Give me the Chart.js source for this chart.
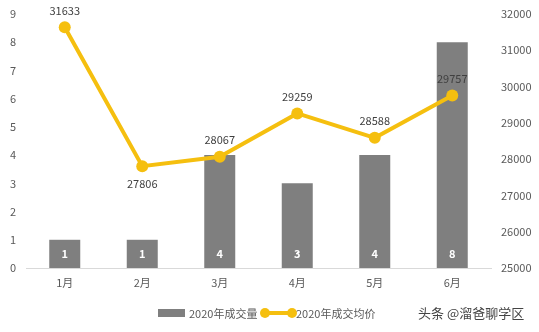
<!DOCTYPE html>
<html>
<head>
<meta charset="utf-8">
<script src="https://cdn.jsdelivr.net/npm/chart.js@4"></script>
<style>
  html, body { margin: 0; padding: 0; background: #fff; }
  #wrap { position: relative; width: 539px; height: 332px; font-family: "Noto Sans CJK SC", "Noto Sans", sans-serif; color: #595959; }
  #myChart { position: absolute; left: 0; top: 0; }
  .lg { position: absolute; top: 304px; font-size: 11px; line-height: 18px; white-space: nowrap; }
  .sw-bar { position: absolute; left: 158px; top: 309px; width: 27px; height: 8px; background: #7f7f7f; }
  .sw-line { position: absolute; left: 265px; top: 311px; width: 27px; height: 4px; background: #f5bf0f; }
  .dot { position: absolute; top: 308px; width: 10px; height: 10px; border-radius: 50%; background: #f5bf0f; }
  .mark { position: absolute; left: 418px; top: 303px; font-size: 13px; line-height: 20px; color: #444; white-space: nowrap; }
</style>
</head>
<body>
<div id="wrap">
  <canvas id="myChart" width="539" height="332"></canvas>
  <div class="sw-bar"></div>
  <div class="lg" style="left:189px">2020年成交量</div>
  <div class="sw-line"></div>
  <div class="dot" style="left:260px"></div>
  <div class="dot" style="left:287px"></div>
  <div class="lg" style="left:296px">2020年成交均价</div>
  <div class="mark">头条 @溜爸聊学区</div>
</div>
<script>
let months = ['1月', '2月', '3月', '4月', '5月', '6月'];
let volume = [1, 1, 4, 3, 4, 8];
let avgPrice = [31633, 27806, 28067, 29259, 28588, 29757];
let labelBelow = [false, true, false, false, false, false];

let font = '"Noto Sans CJK SC", "Noto Sans", sans-serif';
let gold = '#f5bf0f';

// value labels on bars and line points
let valueLabels = {
  id: 'valueLabels',
  afterDatasetsDraw(chart) {
    let c = chart.ctx;
    c.save();
    c.textAlign = 'center';
    c.textBaseline = 'middle';

    c.font = 'bold 11px ' + font;
    c.fillStyle = '#fff';
    chart.getDatasetMeta(0).data.forEach((b, i) => {
      c.fillText(volume[i], b.x, b.base - 14);
    });

    c.font = '11px ' + font;
    c.fillStyle = '#404040';
    chart.getDatasetMeta(1).data.forEach((p, i) => {
      let dy = labelBelow[i] ? 18 : -17;
      c.fillText(avgPrice[i], p.x, p.y + dy);
    });
    c.restore();
  }
};

let ctx = document.getElementById('myChart').getContext('2d');
let myChart = new Chart(ctx, {
  data: {
    labels: months,
    datasets: [{
      type: 'bar',
      label: '2020年成交量',
      data: volume,
      backgroundColor: '#7f7f7f',
      yAxisID: 'y',
      order: 1,
      categoryPercentage: 1,
      barPercentage: 0.4
    }, {
      type: 'line',
      label: '2020年成交均价',
      data: avgPrice,
      borderColor: gold,
      backgroundColor: gold,
      borderWidth: 4,
      pointRadius: 6,
      pointBackgroundColor: gold,
      pointBorderWidth: 0,
      tension: 0,
      yAxisID: 'y1',
      order: 0
    }]
  },
  options: {
    responsive: false,
    animation: false,
    layout: { padding: { top: 14, bottom: 34, left: 0, right: 0 } },
    plugins: {
      legend: { display: false },
      tooltip: { enabled: false }
    },
    scales: {
      x: {
        grid: { display: false },
        border: { display: true, color: '#d9d9d9', width: 1 },
        ticks: { color: '#595959', font: { family: font, size: 11 }, padding: 0 },
        afterFit: (s) => { s.height = 30; }
      },
      y: {
        position: 'left',
        min: 0,
        max: 9,
        grid: { display: false },
        border: { display: false },
        ticks: { stepSize: 1, color: '#595959', font: { family: font, size: 11 }, padding: 2 },
        afterFit: (s) => { s.width = 26; }
      },
      y1: {
        position: 'right',
        min: 25000,
        max: 32000,
        grid: { display: false },
        border: { display: false },
        ticks: {
          stepSize: 1000,
          color: '#595959',
          font: { family: font, size: 11 },
          padding: 2,
          callback: (v) => String(v)
        },
        afterFit: (s) => { s.width = 48; }
      }
    }
  },
  plugins: [valueLabels]
});
</script>
</body>
</html>
